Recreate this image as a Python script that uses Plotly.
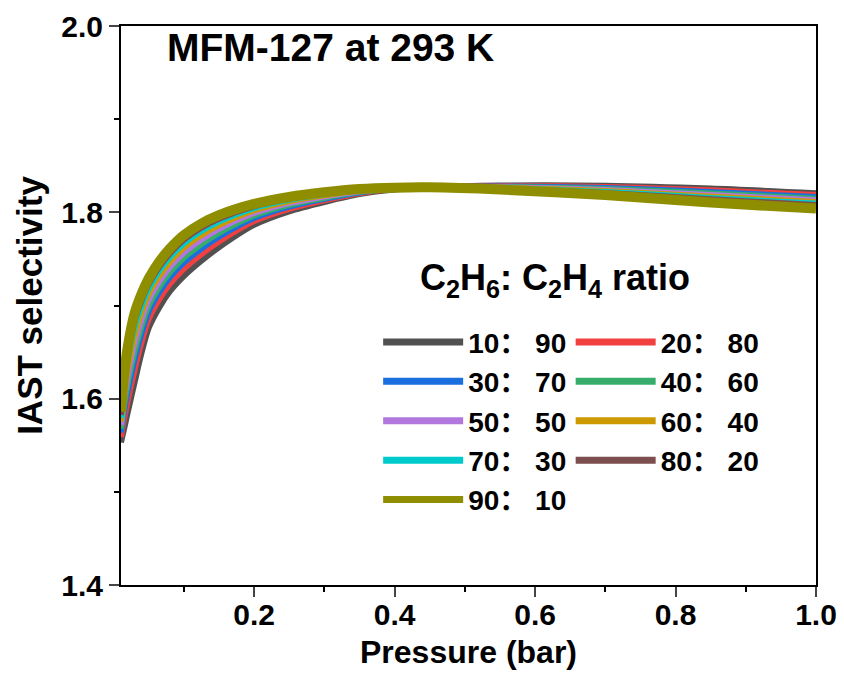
import plotly.graph_objects as go

pressure = [0.0105, 0.015, 0.02, 0.03, 0.04, 0.05, 0.065, 0.08, 0.1, 0.125, 0.15,
            0.2, 0.25, 0.3, 0.35, 0.4, 0.45, 0.55, 0.7, 0.85, 1.0]

s10_90 = [1.553, 1.568, 1.585, 1.618, 1.650, 1.676, 1.698, 1.715, 1.7315, 1.748, 1.7625,
          1.7865, 1.801, 1.811, 1.8195, 1.8245, 1.8268, 1.8287, 1.8285, 1.8255, 1.8205]
s20_80 = [1.5589, 1.5784, 1.5976, 1.6313, 1.6613, 1.6855, 1.7068, 1.7233, 1.7394, 1.7552, 1.7687,
          1.7906, 1.8038, 1.8129, 1.8205, 1.8249, 1.8268, 1.8282, 1.8273, 1.8237, 1.8185]
s30_70 = [1.5639, 1.5871, 1.6081, 1.6424, 1.6708, 1.6935, 1.7142, 1.7302, 1.7460, 1.7612, 1.7739,
          1.7939, 1.8061, 1.8145, 1.8213, 1.8252, 1.8268, 1.8277, 1.8261, 1.8219, 1.8165]
s40_60 = [1.5679, 1.5941, 1.6165, 1.6513, 1.6784, 1.6999, 1.7201, 1.7357, 1.7513, 1.7660, 1.7780,
          1.7966, 1.8080, 1.8157, 1.8220, 1.8254, 1.8268, 1.8272, 1.8250, 1.8203, 1.8147]
s50_50 = [1.5718, 1.6011, 1.6249, 1.6602, 1.6859, 1.7062, 1.7259, 1.7412, 1.7566, 1.7708, 1.7822,
          1.7993, 1.8098, 1.8170, 1.8226, 1.8256, 1.8268, 1.8268, 1.8239, 1.8186, 1.8129]
s60_40 = [1.5758, 1.6080, 1.6333, 1.6691, 1.6935, 1.7126, 1.7318, 1.7467, 1.7619, 1.7756, 1.7863,
          1.8020, 1.8117, 1.8182, 1.8233, 1.8259, 1.8268, 1.8263, 1.8228, 1.8170, 1.8111]
s70_30 = [1.5794, 1.6144, 1.6410, 1.6772, 1.7004, 1.7184, 1.7372, 1.7518, 1.7667, 1.7800, 1.7901,
          1.8045, 1.8134, 1.8194, 1.8239, 1.8261, 1.8268, 1.8259, 1.8218, 1.8155, 1.8094]
s80_20 = [1.5824, 1.6196, 1.6473, 1.6839, 1.7061, 1.7232, 1.7416, 1.7559, 1.7707, 1.7836, 1.7932,
          1.8065, 1.8148, 1.8203, 1.8244, 1.8263, 1.8268, 1.8255, 1.8208, 1.8140, 1.8078]
s90_10 = [1.586, 1.626, 1.655, 1.692, 1.713, 1.729, 1.747, 1.761, 1.7755, 1.788, 1.797,
          1.809, 1.8165, 1.8215, 1.825, 1.8265, 1.8268, 1.8245, 1.8185, 1.8105, 1.804]

names = ["10： 90", "20： 80", "30： 70", "40： 60", "50： 50", "60： 40", "70： 30", "80： 20", "90： 10"]
series = [s10_90, s20_80, s30_70, s40_60, s50_50, s60_40, s70_30, s80_20, s90_10]
colors = ["#515151", "#F14040", "#1A6FDF", "#37AD6B", "#B177DE", "#CC9900", "#00CBCC", "#7D4E4E", "#8E8E00"]
widths = [6, 6, 6, 6, 6, 6, 6, 6, 10]
legend_widths = [7, 7, 7, 7, 7, 7, 7, 7, 7]
legend_ids = ["legend", "legend2", "legend", "legend2", "legend", "legend2", "legend", "legend2", "legend"]

FONT = "Liberation Sans, Arial, Noto Sans CJK SC, sans-serif"

fig = go.Figure()
for name, ys, c, w, lw, lg in zip(names, series, colors, widths, legend_widths, legend_ids):
    # the curve itself
    fig.add_trace(go.Scatter(x=pressure, y=ys, mode="lines", name=name, showlegend=False,
                             line=dict(color=c, width=w, shape="spline", smoothing=0.8)))
    # legend key (no data drawn)
    fig.add_trace(go.Scatter(x=[None], y=[None], mode="lines", name=name, legend=lg,
                             line=dict(color=c, width=lw), hoverinfo="skip"))

legend_common = dict(font=dict(family=FONT, size=28, color="black", weight="bold"),
                     bgcolor="rgba(0,0,0,0)", borderwidth=0,
                     itemwidth=80, xanchor="left", yanchor="top", tracegroupgap=0)

fig.update_layout(
    width=844, height=693,
    margin=dict(l=121, r=28, t=26, b=108, autoexpand=False),
    plot_bgcolor="white", paper_bgcolor="white",
    font=dict(family=FONT, color="black"),
    legend=dict(x=0.37, y=0.479, **legend_common),
    legend2=dict(x=0.647, y=0.479, **legend_common),
    xaxis=dict(range=[0.0105, 1.0], dtick=0.2, tick0=0, ticks="outside", ticklen=10, tickwidth=2,
               showline=True, linewidth=2, linecolor="black", mirror=True, showgrid=False,
               zeroline=False, tickformat=".1f", automargin=False, ticklabelstandoff=-8,
               tickfont=dict(family=FONT, size=30, color="black", weight="bold"),
               minor=dict(dtick=0.1, tick0=0, ticks="outside", ticklen=5, tickwidth=2, tickcolor="black"),
               title=dict(text="Pressure (bar)", font=dict(family=FONT, size=32, weight="bold"), standoff=11)),
    yaxis=dict(range=[1.4, 2.0], dtick=0.2, tick0=1.4, ticks="outside", ticklen=10, tickwidth=2,
               showline=True, linewidth=2, linecolor="black", mirror=True, showgrid=False,
               zeroline=False, tickformat=".1f", automargin=False,
               tickfont=dict(family=FONT, size=30, color="black", weight="bold"),
               minor=dict(dtick=0.1, tick0=1.4, ticks="outside", ticklen=5, tickwidth=2, tickcolor="black"),
               title=dict(text="IAST selectivity", font=dict(family=FONT, size=35, weight="bold"), standoff=8)),
    annotations=[
        dict(text="<b>MFM-127 at 293 K</b>", xref="paper", yref="paper", x=0.063, y=0.961,
             xanchor="left", yanchor="middle", showarrow=False,
             font=dict(family=FONT, size=39, color="black")),
        dict(text="<b>C<sub>2</sub>H<sub>6</sub>: C<sub>2</sub>H<sub>4</sub> ratio</b>",
             xref="paper", yref="paper", x=0.6245, y=0.545,
             xanchor="center", yanchor="middle", showarrow=False,
             font=dict(family=FONT, size=36, color="black")),
    ],
)

fig.write_html("out.html")
